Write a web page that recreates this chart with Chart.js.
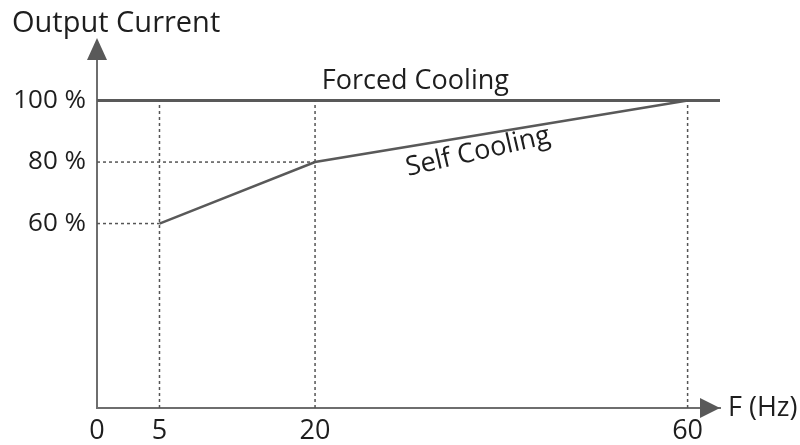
<!DOCTYPE html>
<html>
<head>
<meta charset="utf-8">
<script src="https://cdn.jsdelivr.net/npm/chart.js@4/dist/chart.umd.min.js"></script>
<style>
  html, body { margin: 0; padding: 0; background: #fff; }
  #wrap { width: 800px; height: 445px; position: relative; }
</style>
</head>
<body>
<div id="wrap"><canvas id="coolingChart"></canvas></div>
<script>
// tick labels
const xTickValues = [0, 5, 20, 60];
const yTickValues = [60, 80, 100];

// curves
const selfX = [5, 20, 60];
const selfY = [60, 80, 100];
const forcedX = [0, 65];
const forcedY = [100, 100];

// the x axis is not drawn to scale in the original, so it is broken piecewise
const xStops = [0, 5, 20, 60, 65];
const xStopFrac = [0, 0.1003, 0.35, 0.948, 1];

class BrokenScale extends Chart.LinearScale {
    static id = 'broken';
    static defaults = Chart.LinearScale.defaults;
    getPixelForValue(value) {
        let f = 0;
        for (let i = 1; i < xStops.length; i++) {
            if (value <= xStops[i] || i === xStops.length - 1) {
                const t = (value - xStops[i - 1]) / (xStops[i] - xStops[i - 1]);
                f = xStopFrac[i - 1] + t * (xStopFrac[i] - xStopFrac[i - 1]);
                break;
            }
        }
        return this.getPixelForDecimal(f);
    }
    getValueForPixel(pixel) {
        const f = this.getDecimalForPixel(pixel);
        for (let i = 1; i < xStopFrac.length; i++) {
            if (f <= xStopFrac[i] || i === xStopFrac.length - 1) {
                const t = (f - xStopFrac[i - 1]) / (xStopFrac[i] - xStopFrac[i - 1]);
                return xStops[i - 1] + t * (xStops[i] - xStops[i - 1]);
            }
        }
    }
}
Chart.register(BrokenScale);

const toPts = (xs, ys) => xs.map((x, i) => ({ x: x, y: ys[i] }));

const lineColor = '#595959';
const textColor = '#1e1e1e';
const fontFamily = "'Open Sans', sans-serif";

const dotted = { borderColor: '#555', borderWidth: 1.5, borderDash: [3, 3], pointRadius: 0, fill: false };

// dotted guide lines from each breakpoint of the self cooling curve
const guides = [];
selfX.forEach((x, i) => {
    guides.push(Object.assign({ data: [{ x: x, y: 0 }, { x: x, y: forcedY[0] }] }, dotted));
    if (selfY[i] < forcedY[0]) {
        guides.push(Object.assign({ data: [{ x: 0, y: selfY[i] }, { x: x, y: selfY[i] }] }, dotted));
    }
});

const annotations = {
    id: 'annotations',
    afterDraw(chart) {
        const { ctx, chartArea: a, scales: { y } } = chart;
        ctx.save();
        ctx.fillStyle = lineColor;
        // y arrow
        ctx.beginPath();
        ctx.moveTo(a.left, a.top - 22);
        ctx.lineTo(a.left - 10, a.top);
        ctx.lineTo(a.left + 10, a.top);
        ctx.closePath();
        ctx.fill();
        // x arrow
        ctx.beginPath();
        ctx.moveTo(a.right, a.bottom);
        ctx.lineTo(a.right - 20, a.bottom - 10);
        ctx.lineTo(a.right - 20, a.bottom + 10);
        ctx.closePath();
        ctx.fill();

        ctx.fillStyle = textColor;
        ctx.font = '29px ' + fontFamily;
        ctx.textBaseline = 'alphabetic';
        ctx.textAlign = 'left';
        ctx.fillText('Output Current', 12, 32);
        ctx.font = '27px ' + fontFamily;
        ctx.textBaseline = 'middle';
        ctx.fillText('F (Hz)', a.right + 8, a.bottom);
        ctx.textAlign = 'center';
        ctx.textBaseline = 'alphabetic';
        ctx.fillText('Forced Cooling', a.left + 0.511 * (a.right - a.left), y.getPixelForValue(forcedY[0]) - 12);
        ctx.translate(478, 152);
        ctx.rotate(-13 * Math.PI / 180);
        ctx.textBaseline = 'middle';
        ctx.fillText('Self Cooling', 0, 0);
        ctx.restore();
    }
};

new Chart(document.getElementById('coolingChart'), {
    type: 'line',
    data: {
        datasets: guides.concat([
            { data: toPts(forcedX, forcedY), borderColor: lineColor, borderWidth: 3, pointRadius: 0 },
            { data: toPts(selfX, selfY), borderColor: lineColor, borderWidth: 2.5, pointRadius: 0 }
        ])
    },
    options: {
        responsive: true,
        maintainAspectRatio: false,
        animation: false,
        layout: { padding: { top: 60, right: 80, left: 0, bottom: 0 } },
        plugins: { legend: { display: false }, tooltip: { enabled: false } },
        elements: { line: { tension: 0 } },
        scales: {
            x: {
                type: 'broken',
                min: 0,
                max: 65,
                afterBuildTicks: s => { s.ticks = xTickValues.map(v => ({ value: v })); },
                afterFit: s => { s.height = 37; },
                grid: { display: false, drawTicks: false },
                border: { display: true, color: '#6e6e6e', width: 2 },
                ticks: { color: textColor, font: { family: fontFamily, size: 27 }, padding: 7, maxRotation: 0, autoSkip: false, callback: v => String(v) }
            },
            y: {
                type: 'linear',
                min: 0,
                max: 113.2,
                afterBuildTicks: s => { s.ticks = yTickValues.map(v => ({ value: v })); },
                afterFit: s => { s.width = 97; },
                grid: { display: false, drawTicks: false },
                border: { display: true, color: '#6e6e6e', width: 2 },
                ticks: { color: textColor, font: { family: fontFamily, size: 26 }, padding: 11, callback: v => v + ' %' }
            }
        }
    },
    plugins: [annotations]
});
</script>
</body>
</html>
